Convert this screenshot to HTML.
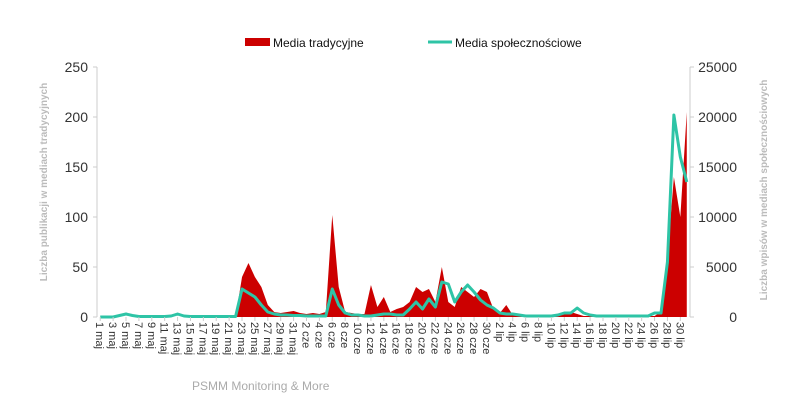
<!DOCTYPE html>
<html><head><meta charset="utf-8"><style>
body{margin:0;background:#fff;}
svg{display:block;font-family:"Liberation Sans",sans-serif;}
</style></head><body>
<svg id="c" width="800" height="402"></svg>
<script>
const categories=[];
(function(){const m=[["maj",31],["cze",30],["lip",31]];for(const [n,d] of m)for(let i=1;i<=d;i++)categories.push(i+" "+n);})();
const traditional=[0,0,0,0,0,0,0,0,0,0,0,0,0,0,0,0,0,0,0,0,0,0,40,54,40,30,12,5,4,5,6,4,3,4,3,5,102,30,5,4,3,3,32,10,20,5,8,10,15,30,25,28,15,50,15,10,30,25,20,28,25,8,4,12,2,1,1,1,1,1,1,1,4,5,3,1,1,1,1,1,1,1,1,1,1,1,1,5,60,140,100,205];
const social=[0,0,0,150,300,150,50,50,50,50,50,100,300,100,50,50,50,50,50,50,50,50,2800,2400,2000,1200,500,300,200,200,150,150,100,100,100,100,2800,1200,400,200,200,100,100,200,300,300,200,200,800,1500,800,1800,1000,3500,3300,1500,2500,3200,2500,1700,1200,900,400,300,300,200,100,100,100,100,100,200,400,400,900,400,200,100,100,100,100,100,100,100,100,100,400,400,5500,20200,16000,13500];
const leftTicks=[0,50,100,150,200,250];
const rightTicks=[0,5000,10000,15000,20000,25000];
const NS="http://www.w3.org/2000/svg",svg=document.getElementById("c");
const X0=97,X1=690,Y0=317,Y1=67;
const step=(X1-X0)/categories.length;
const x=i=>X0+step*(i+0.5);
const yL=v=>Y0-(v/250)*(Y0-Y1);
const yR=v=>Y0-(v/25000)*(Y0-Y1);
function mk(t,a,txt){const e=document.createElementNS(NS,t);for(const k in a)e.setAttribute(k,a[k]);if(txt!=null)e.textContent=txt;svg.appendChild(e);return e;}
let d="M"+x(0)+","+Y0;traditional.forEach((v,i)=>d+=" L"+x(i)+","+yL(v));d+=" L"+x(traditional.length-1)+","+Y0+" Z";
let e=mk("path",{d:d,fill:"#cc0000"});


let p="";social.forEach((v,i)=>p+=(i?" L":"M")+x(i)+","+yR(v));
e=mk("path",{d:p,fill:"none",stroke:"#2ec4a6","stroke-width":3,"stroke-linejoin":"round"});


mk("line",{x1:X0,y1:Y1,x2:X0,y2:Y0,stroke:"#ccc"});
mk("line",{x1:X1,y1:Y1,x2:X1,y2:Y0,stroke:"#ccc"});
leftTicks.forEach(v=>{mk("line",{x1:X0-4,x2:X0,y1:yL(v),y2:yL(v),stroke:"#ccc"});
 e=mk("text",{x:X0-9,y:yL(v)+5,"text-anchor":"end","font-size":14,fill:"#333"},v);
 });
rightTicks.forEach(v=>{mk("line",{x1:X1,x2:X1+4,y1:yR(v),y2:yR(v),stroke:"#ccc"});
 e=mk("text",{x:X1+47,y:yR(v)+5,"text-anchor":"end","font-size":14,fill:"#333"},v);
 });
categories.forEach((c,i)=>{if(i%2)return;mk("line",{x1:x(i),x2:x(i),y1:Y0,y2:Y0+4,stroke:"#ccc"});
 e=mk("text",{x:0,y:0,transform:"translate("+(x(i)-4)+","+(Y0+5)+") rotate(90)","font-size":11,fill:"#333"},c);
 });
e=mk("text",{transform:"translate(47,182) rotate(-90)","text-anchor":"middle","font-size":10,fill:"#bbb","font-weight":"bold"},"Liczba publikacji w mediach tradycyjnych");

e=mk("text",{transform:"translate(767,190) rotate(-90)","text-anchor":"middle","font-size":10,fill:"#bbb","font-weight":"bold"},"Liczba wpisów w mediach społecznościowych");

mk("rect",{x:245,y:38,width:25,height:8,fill:"#cc0000"});
e=mk("text",{x:273,y:47,"font-size":12,fill:"#111"},"Media tradycyjne");

mk("line",{x1:428,x2:452,y1:42,y2:42,stroke:"#2ec4a6","stroke-width":3});
e=mk("text",{x:455,y:47,"font-size":12,fill:"#111"},"Media społecznościowe");

e=mk("text",{x:192,y:390,"font-size":12,fill:"#aaa"},"PSMM Monitoring & More");

</script>
</body></html>
